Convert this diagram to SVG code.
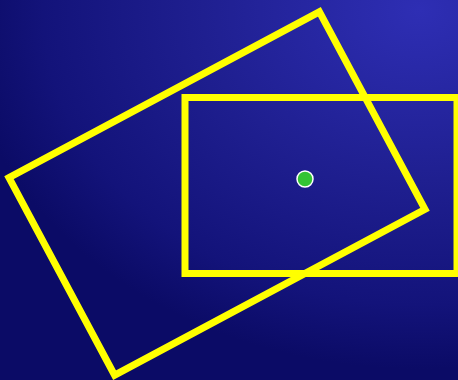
<svg xmlns="http://www.w3.org/2000/svg" width="458" height="380" viewBox="0 0 458 380">
  <defs>
    <radialGradient id="bg" gradientUnits="userSpaceOnUse" cx="420" cy="10" r="420" fx="420" fy="10" gradientTransform="translate(420 10) scale(1.15 0.9) translate(-420 -10)">
      <stop offset="0" stop-color="#2e2eb4"/>
      <stop offset="0.45" stop-color="#1f1f90"/>
      <stop offset="0.78" stop-color="#13137a"/>
      <stop offset="0.95" stop-color="#0b0b66"/>
      <stop offset="1" stop-color="#0b0b66"/>
    </radialGradient>
  </defs>
  <style>
    .frame { fill: none; stroke: #ffff00; stroke-width: 7; stroke-linejoin: miter; }
    .dot { fill: #33c433; stroke: #ffffff; stroke-width: 1.5; }
  </style>
  <rect x="0" y="0" width="458" height="380" fill="url(#bg)"/>
  <g id="rotated-rect">
    <polygon class="frame" points="9,177.6 319.4,11.8 425,209.4 114.6,375.2"/>
  </g>
  <g id="axis-rect">
    <rect class="frame" x="185" y="97.5" width="272" height="176"/>
  </g>
  <g id="center-dot">
    <circle class="dot" cx="305" cy="179" r="8"/>
  </g>
  <g id="connectors"></g>
</svg>
